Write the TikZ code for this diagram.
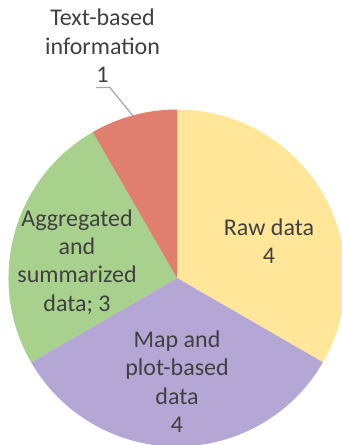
\documentclass[tikz,border=0pt]{standalone}
\usepackage{fontspec}
\setmainfont{Carlito}
\definecolor{rawc}{HTML}{FFE699}
\definecolor{mapc}{HTML}{B4A7D6}
\definecolor{aggc}{HTML}{A9D18E}
\definecolor{txtc}{HTML}{E07F6F}
\definecolor{labelc}{HTML}{404040}
\definecolor{leaderc}{HTML}{A6A6A6}
\tikzset{
  slicelabel/.style={font=\fontsize{24}{28.5}\selectfont, text=labelc,
    align=center, anchor=base, inner sep=0pt},
  leader/.style={draw=leaderc, line width=1.2pt}
}
\begin{document}
\begin{tikzpicture}[x=1pt,y=1pt]
\clip (0,0) rectangle (342,445);
\coordinate (c) at (177,167);
% pie slices, clockwise from the top
\fill[rawc] (c) -- ++(90:168.5) arc[start angle=90, end angle=-30, radius=168.5] -- cycle;
\fill[mapc] (c) -- ++(-30:168.5) arc[start angle=-30, end angle=-150, radius=168.5] -- cycle;
\fill[aggc] (c) -- ++(-150:168.5) arc[start angle=-150, end angle=-240, radius=168.5] -- cycle;
\fill[txtc] (c) -- ++(120:168.5) arc[start angle=120, end angle=90, radius=168.5] -- cycle;
% data labels (base anchor sits on the last line)
\node[slicelabel] (raw) at (269,181) {Raw data\\4};
\node[slicelabel] (map) at (177,12.5) {Map and\\plot-based\\data\\4};
\node[slicelabel] (agg) at (77,133.5) {Aggregated\\and\\summarized\\data; 3};
\node[slicelabel] (txt) at (102.5,362) {Text-based\\information\\1};
% leader line for the small slice
\coordinate (ldA) at (96,357.5);
\coordinate (ldB) at (110,357.5);
\coordinate (ldC) at (133,329);
\draw[leader] (ldA) -- (ldB) -- (ldC);
\end{tikzpicture}
\end{document}
